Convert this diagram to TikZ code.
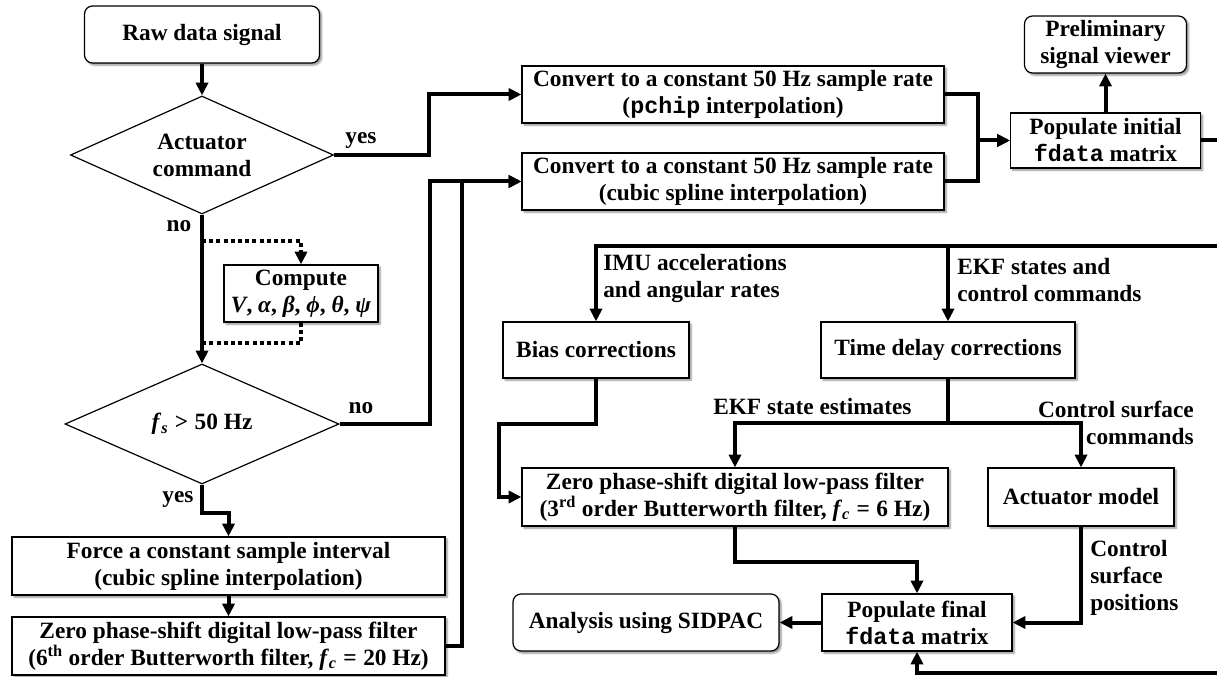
\documentclass[tikz,border=0pt]{standalone}
\usepackage{fontspec}
\setmainfont{Liberation Serif}
\setmonofont{Liberation Mono}
\usetikzlibrary{shapes.geometric,arrows.meta,shadows.blur}

% italic "math" letters in the running bold text
\newcommand{\mi}[1]{\textit{#1}}
% relation sign with math-like spacing
\newcommand{\rel}[1]{\hspace{0.28em}#1\hspace{0.28em}}

\begin{document}
\begin{tikzpicture}[x=0.75pt,y=-0.75pt,
  font=\fontsize{17.5}{20.25}\selectfont\bfseries,
  shade/.style={blur shadow={shadow xshift=1.6pt,shadow yshift=-1.6pt,
      shadow blur steps=6,shadow blur radius=1.4pt,shadow opacity=45}},
  box/.style 2 args={draw,line width=0.9pt,fill=white,align=center,
      inner sep=0pt,minimum width=#1*0.75pt,minimum height=#2*0.75pt,shade},
  rbox/.style 2 args={box={#1}{#2},rounded corners=6pt},
  decision/.style 2 args={draw,line width=0.9pt,fill=white,align=center,
      shape=diamond,aspect=2.2,inner sep=0pt,
      minimum width=#1*0.75pt,minimum height=#2*0.75pt},
  tip/.style={-{Triangle[length=9.5pt,width=9pt]}},
  conn/.style={line width=3pt,tip},
  wire/.style={line width=3pt},
  dotline/.style={line width=3pt,dash pattern=on 3pt off 2.4pt},
  lab/.style={inner sep=0pt,align=left}]

\useasboundingbox (0,0) rectangle (1217,677);

% ---- left column -------------------------------------------------
\node[rbox={235}{57}] (raw) at (202,34.5) {Raw data signal};
\node[decision={263}{118}] (act) at (202,155) {Actuator\\command};
\node[box={154}{57}] (comp) at (301,293.5)
  {Compute\\\mi{V}, \mi{α}, \mi{β}, \mi{ϕ}, \mi{θ}, \mi{ψ}};
\node[decision={274}{120}] (fs) at (202,424)
  {\mi{f}\textsubscript{\mi{s}}\rel{>}50 Hz};
\node[box={433}{58}] (force) at (228.5,566)
  {Force a constant sample interval\\(cubic spline interpolation)};
\node[box={433}{58}] (f6) at (228.5,646)
  {Zero phase-shift digital low-pass filter\\(6\textsuperscript{th} order Butterworth filter, \mi{f}\textsubscript{\mi{c}}\rel{=}20 Hz)};

% ---- resampling and initial matrix ---------------------------------
\node[box={422}{57}] (cv1) at (733,94.5)
  {Convert to a constant 50 Hz sample rate\\(\texttt{pchip} interpolation)};
\node[box={422}{57}] (cv2) at (733,181.5)
  {Convert to a constant 50 Hz sample rate\\(cubic spline interpolation)};
\node[box={190}{55}] (popi) at (1105.5,140.5) {Populate initial\\\texttt{fdata} matrix};
\node[rbox={162}{57}] (prev) at (1105.5,44.5) {Preliminary\\signal viewer};

% ---- corrections and final matrix ----------------------------------
\node[box={186}{56}] (bias) at (596,350) {Bias corrections};
\node[box={254}{56}] (tdel) at (948,350) {Time delay corrections};
\node[box={426}{58}] (f3) at (735,497)
  {Zero phase-shift digital low-pass filter\\(3\textsuperscript{rd} order Butterworth filter, \mi{f}\textsubscript{\mi{c}}\rel{=}6 Hz)};
\node[box={186}{58}] (actm) at (1081,497) {Actuator model};
\node[box={190}{57}] (popf) at (917,622.5) {Populate final\\\texttt{fdata} matrix};
\node[rbox={266}{57}] (anal) at (646,622.5) {Analysis using SIDPAC};

% ---- junction points and off-page ends -----------------------------
\coordinate (dtop) at (202,241);
\coordinate (dbot) at (202,343);
\coordinate (eout) at (1217,140.5);
\coordinate (ein) at (1217,246);
\coordinate (eback) at (1217,673);
\coordinate (tj) at (948,423);

% ---- connectors ----------------------------------------------------
\draw[conn] (raw) -- (act);
\draw[conn] (act.east) -- ++(94.5,0) |- (cv1.west);
\draw[conn] (act) -- (fs);
\draw[dotline,tip] (dtop) -| (comp.north);
\draw[dotline] (comp.south) |- (dbot);
\draw[conn] (fs.east) -| (430,181.5) -- (cv2.west);
\draw[conn] (f6.east) -| (462,181.5) -- (cv2.west);
\draw[conn] (fs.south) -- ++(0,28) -| (force.north);
\draw[conn] (force) -- (f6);

\draw[conn] (cv1.east) -| (978,140.5) -- (popi.west);
\draw[conn] (cv2.east) -| (978,140.5) -- (popi.west);
\draw[conn] (popi) -- (prev);
\draw[wire] (popi.east) -- (eout);

\draw[conn] (ein) -| (bias.north);
\draw[conn] (tdel.north |- ein) -- (tdel.north);
\draw[conn] (bias.south) -- ++(0,45) -| (499,497) -- (f3.west);
\draw[wire] (tdel.south) -- (tj);
\draw[conn] (tj) -| (f3.north);
\draw[conn] (tj) -| (actm.north);
\draw[conn] (f3.south) -- ++(0,35) -| (popf.north);
\draw[conn] (actm.south) |- (popf.east);
\draw[conn] (popf) -- (anal);
\draw[conn] (eback) -| (popf.south);

% ---- connector labels ----------------------------------------------
\node[lab] (lyes1) at (361,141) {yes};
\node[lab] (lno1) at (179,226) {no};
\node[lab] (lno2) at (361,408) {no};
\node[lab] (lyes2) at (178,500) {yes};
\node[lab,anchor=west] (limu) at (603,278) {IMU accelerations\\and angular rates};
\node[lab,anchor=west] (lekf) at (957,280) {EKF states and\\control commands};
\node[lab,anchor=west] (lest) at (713,407) {EKF state estimates};
\node[lab,anchor=east,align=right] (lcmd) at (1194,423) {Control surface\\commands};
\node[lab,anchor=west] (lpos) at (1090,578) {Control\\surface\\positions};
\end{tikzpicture}
\end{document}
